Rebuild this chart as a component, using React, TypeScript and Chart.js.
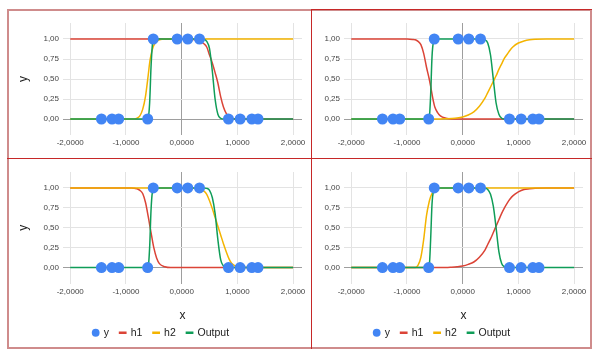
import React, { useEffect, useRef } from 'react';
import { Chart, registerables } from 'chart.js';
Chart.register(...registerables);

// ---------- data ----------
const pointsX = [-1.44, -1.25, -1.13, -0.61, -0.51, -0.08, 0.11, 0.32, 0.84, 1.05, 1.26, 1.37];
const pointsY = [0, 0, 0, 0, 1, 1, 1, 1, 0, 0, 0, 0];

const curveX = [
  -2, -1.2, -1, -0.9, -0.85, -0.8, -0.75, -0.7, -0.65, -0.6,
  -0.575, -0.55, -0.525, -0.5, -0.45, -0.4, -0.3, -0.2, -0.1, 0,
  0.1, 0.2, 0.3, 0.4, 0.45, 0.5, 0.55, 0.6, 0.65, 0.7,
  0.75, 0.8, 0.85, 0.9, 1.0, 1.1, 1.2, 1.3, 1.5, 2,
];

// top-left panel
const tlH1 = [
  1, 1, 1, 1, 1, 1, 1, 1, 1, 1,
  1, 1, 1, 1, 1, 1, 1, 1, 1, 1,
  1, 0.995, 0.98, 0.94, 0.9, 0.8, 0.7, 0.58, 0.45, 0.28,
  0.15, 0.07, 0.03, 0.01, 0, 0, 0, 0, 0, 0,
];
const tlH2 = [
  0, 0, 0, 0, 0, 0.01, 0.04, 0.12, 0.28, 0.55,
  0.7, 0.8, 0.87, 0.92, 0.97, 0.99, 1, 1, 1, 1,
  1, 1, 1, 1, 1, 1, 1, 1, 1, 1,
  1, 1, 1, 1, 1, 1, 1, 1, 1, 1,
];
const tlOut = [
  0, 0, 0, 0, 0, 0, 0, 0, 0, 0.02,
  0.2, 0.65, 0.93, 0.99, 1, 1, 1, 1, 1, 1,
  1, 1, 1, 0.995, 0.97, 0.88, 0.6, 0.25, 0.06, 0.01,
  0, 0, 0, 0, 0, 0, 0, 0, 0, 0,
];

// top-right panel
const trH1 = [
  1, 1, 1, 0.995, 0.99, 0.97, 0.93, 0.82, 0.65, 0.5,
  0.41, 0.31, 0.22, 0.15, 0.08, 0.04, 0.01, 0, 0, 0,
  0, 0, 0, 0, 0, 0, 0, 0, 0, 0,
  0, 0, 0, 0, 0, 0, 0, 0, 0, 0,
];
const trH2 = [
  0, 0, 0, 0, 0, 0, 0, 0, 0, 0,
  0, 0, 0, 0, 0, 0, 0.003, 0.006, 0.012, 0.025,
  0.05, 0.09, 0.16, 0.26, 0.33, 0.4, 0.47, 0.54, 0.62, 0.69,
  0.76, 0.81, 0.86, 0.9, 0.95, 0.975, 0.99, 0.997, 1, 1,
];
const trOut = [
  0, 0, 0, 0, 0, 0, 0, 0, 0, 0.02,
  0.3, 0.78, 0.96, 0.99, 1, 1, 1, 1, 1, 1,
  1, 1, 1, 0.99, 0.95, 0.8, 0.5, 0.2, 0.06, 0.01,
  0, 0, 0, 0, 0, 0, 0, 0, 0, 0,
];

// bottom-left panel
const blH1 = [
  1, 1, 1, 1, 0.995, 0.99, 0.97, 0.93, 0.82, 0.64,
  0.54, 0.44, 0.34, 0.25, 0.12, 0.05, 0.01, 0, 0, 0,
  0, 0, 0, 0, 0, 0, 0, 0, 0, 0,
  0, 0, 0, 0, 0, 0, 0, 0, 0, 0,
];
const blH2 = [
  1, 1, 1, 1, 1, 1, 1, 1, 1, 1,
  1, 1, 1, 1, 1, 1, 1, 1, 1, 1,
  1, 0.998, 0.99, 0.96, 0.92, 0.84, 0.74, 0.63, 0.52, 0.41,
  0.3, 0.2, 0.11, 0.05, 0.01, 0, 0, 0, 0, 0,
];
const blOut = [
  0, 0, 0, 0, 0, 0, 0, 0, 0, 0.02,
  0.25, 0.72, 0.95, 0.99, 1, 1, 1, 1, 1, 1,
  1, 1, 1, 1, 0.995, 0.97, 0.88, 0.68, 0.35, 0.1,
  0.02, 0, 0, 0, 0, 0, 0, 0, 0, 0,
];

// bottom-right panel
const brH1 = [
  0, 0, 0, 0, 0, 0, 0, 0, 0, 0,
  0, 0, 0, 0, 0, 0, 0, 0.004, 0.01, 0.02,
  0.04, 0.07, 0.13, 0.22, 0.29, 0.36, 0.44, 0.52, 0.6, 0.68,
  0.75, 0.81, 0.86, 0.9, 0.95, 0.98, 0.99, 0.997, 1, 1,
];
const brH2 = [
  0, 0, 0, 0, 0, 0.03, 0.13, 0.35, 0.65, 0.83,
  0.89, 0.93, 0.96, 0.98, 0.99, 1, 1, 1, 1, 1,
  1, 1, 1, 1, 1, 1, 1, 1, 1, 1,
  1, 1, 1, 1, 1, 1, 1, 1, 1, 1,
];
const brOut = [
  0, 0, 0, 0, 0, 0, 0, 0, 0, 0.03,
  0.35, 0.8, 0.96, 0.99, 1, 1, 1, 1, 1, 1,
  1, 1, 1, 1, 0.98, 0.92, 0.77, 0.5, 0.2, 0.05,
  0.01, 0, 0, 0, 0, 0, 0, 0, 0, 0,
];

const xTickValues = [-2, -1, 0, 1, 2];
const xTickLabels = ['-2,0000', '-1,0000', '0,0000', '1,0000', '2,0000'];
const yTickValues = [0, 0.25, 0.5, 0.75, 1];
const yTickLabels = ['0,00', '0,25', '0,50', '0,75', '1,00'];
const seriesLabels = ['y', 'h1', 'h2', 'Output'];

// ---------- styles ----------
const BLUE = '#4285f4';
const RED = '#db4437';
const YELLOW = '#f4b400';
const GREEN = '#0f9d58';
const FONT = "'Liberation Sans', Arial, sans-serif";
const CW = 303;

type PanelProps = { h1: number[]; h2: number[]; out: number[]; bottom: boolean; left: number; top: number; clipLeft?: number; clipWidth?: number };

const shiftLegend = {
  id: 'shiftLegend',
  afterLayout(chart: any) {
    if (chart.legend && chart.legend.options.display) {
      chart.legend.left += 12;
    }
  },
};

function Panel({ h1, h2, out, bottom, left, top, clipLeft, clipWidth }: PanelProps) {
  const ref = useRef<HTMLCanvasElement>(null);
  const CH = bottom ? 189 : 149;
  useEffect(() => {
    const mk = (ys: number[]) => curveX.map((x, i) => ({ x, y: ys[i] }));
    const lineDs = (label: string, ys: number[], color: string, order: number) => ({
      label,
      data: mk(ys),
      borderColor: color,
      backgroundColor: color,
      showLine: true,
      pointRadius: 0,
      pointHoverRadius: 0,
      borderWidth: 1.5,
      cubicInterpolationMode: 'monotone',
      pointStyle: 'line',
      order,
    });
    const gridColor = (ctx: any) => (ctx.tick && ctx.tick.value === 0 ? '#9e9e9e' : '#e3e3e3');
    const chart = new Chart(ref.current as HTMLCanvasElement, {
      type: 'scatter',
      plugins: [shiftLegend],
      data: {
        datasets: [
          {
            label: seriesLabels[0],
            data: pointsX.map((x, i) => ({ x, y: pointsY[i] })),
            backgroundColor: BLUE,
            borderColor: BLUE,
            borderWidth: 0,
            pointRadius: 5.5,
            pointHoverRadius: 5.5,
            pointStyle: 'circle',
            showLine: false,
            order: 0,
          },
          lineDs(seriesLabels[1], h1, RED, 3),
          lineDs(seriesLabels[2], h2, YELLOW, 2),
          lineDs(seriesLabels[3], out, GREEN, 1),
        ] as any,
      },
      options: {
        animation: false,
        responsive: false,
        events: [],
        layout: { padding: { top: 13, right: 9, left: 0, bottom: 0 } },
        plugins: {
          tooltip: { enabled: false },
          legend: {
            display: bottom,
            position: 'bottom',
            labels: {
              usePointStyle: true,
              boxWidth: 5.5,
              boxHeight: 5.5,
              padding: 11,
              color: '#222',
              font: { size: 10.5, family: FONT },
              sort: (a: any, b: any) => a.datasetIndex - b.datasetIndex,
              generateLabels: (c: any) =>
                (Chart.defaults.plugins.legend.labels.generateLabels as any)(c).map((l: any) => ({
                  ...l,
                  lineWidth: l.pointStyle === 'line' ? 2.5 : 0,
                })),
            },
          },
        },
        scales: {
          x: {
            type: 'linear',
            min: -2.13,
            max: 2.16,
            afterBuildTicks: (s: any) => {
              s.ticks = xTickValues.map((v) => ({ value: v }));
            },
            afterFit: (s: any) => {
              s.height = bottom ? 33 : 24;
            },
            grid: { color: gridColor, drawTicks: false, lineWidth: 1 },
            border: { display: false },
            ticks: {
              padding: 3,
              autoSkip: false,
              maxRotation: 0,
              color: '#444',
              font: { size: 8, family: FONT },
              callback: (v: any) => xTickLabels[xTickValues.indexOf(Number(v))],
            },
            title: {
              display: bottom,
              text: 'x',
              color: '#222',
              font: { size: 12, family: FONT },
              padding: { top: 0, bottom: -6 },
            },
          },
          y: {
            type: 'linear',
            min: -0.2,
            max: 1.2,
            afterBuildTicks: (s: any) => {
              s.ticks = yTickValues.map((v) => ({ value: v }));
            },
            afterFit: (s: any) => {
              s.width = 55;
            },
            grid: { color: gridColor, drawTicks: false, lineWidth: 1 },
            border: { display: false },
            ticks: {
              padding: 4,
              color: '#444',
              font: { size: 8, family: FONT },
              callback: (v: any) => yTickLabels[yTickValues.indexOf(Number(v))],
            },
            title: {
              display: true,
              text: 'y',
              color: '#222',
              font: { size: 12, family: FONT },
              padding: { top: 8, bottom: 0 },
            },
          },
        },
      } as any,
    });
    return () => chart.destroy();
  }, []);

  const canvas = (
    <canvas
      ref={ref}
      width={CW}
      height={CH}
      style={{ position: 'absolute', left: clipLeft !== undefined ? left - clipLeft : left, top: clipLeft !== undefined ? 0 : top, width: CW, height: CH }}
    />
  );
  if (clipLeft !== undefined) {
    return (
      <div style={{ position: 'absolute', left: clipLeft, top, width: clipWidth, height: CH, overflow: 'hidden' }}>
        {canvas}
      </div>
    );
  }
  return canvas;
}

export default function App() {
  const OUTER = '#cf8c8c';
  const DIV = '#c62828';
  return (
    <div style={{ position: 'fixed', left: 0, top: 0, width: 600, height: 361, background: '#fff', overflow: 'hidden' }}>
      <Panel h1={tlH1} h2={tlH2} out={tlOut} bottom={false} left={8} top={10} />
      <Panel h1={trH1} h2={trH2} out={trOut} bottom={false} left={289} top={10} clipLeft={311} clipWidth={280} />
      <Panel h1={blH1} h2={blH2} out={blOut} bottom={true} left={8} top={159} />
      <Panel h1={brH1} h2={brH2} out={brOut} bottom={true} left={289} top={159} clipLeft={311} clipWidth={280} />
      <div style={{ position: 'absolute', left: 7, top: 9, width: 585, height: 340, border: `2px solid ${OUTER}`, boxSizing: 'border-box' }} />
      <div style={{ position: 'absolute', left: 311, top: 9, width: 1, height: 340, background: DIV }} />
      <div style={{ position: 'absolute', left: 7, top: 158, width: 585, height: 1, background: DIV }} />
      <div style={{ position: 'absolute', left: 311, top: 9, width: 281, height: 1, background: DIV }} />
    </div>
  );
}
